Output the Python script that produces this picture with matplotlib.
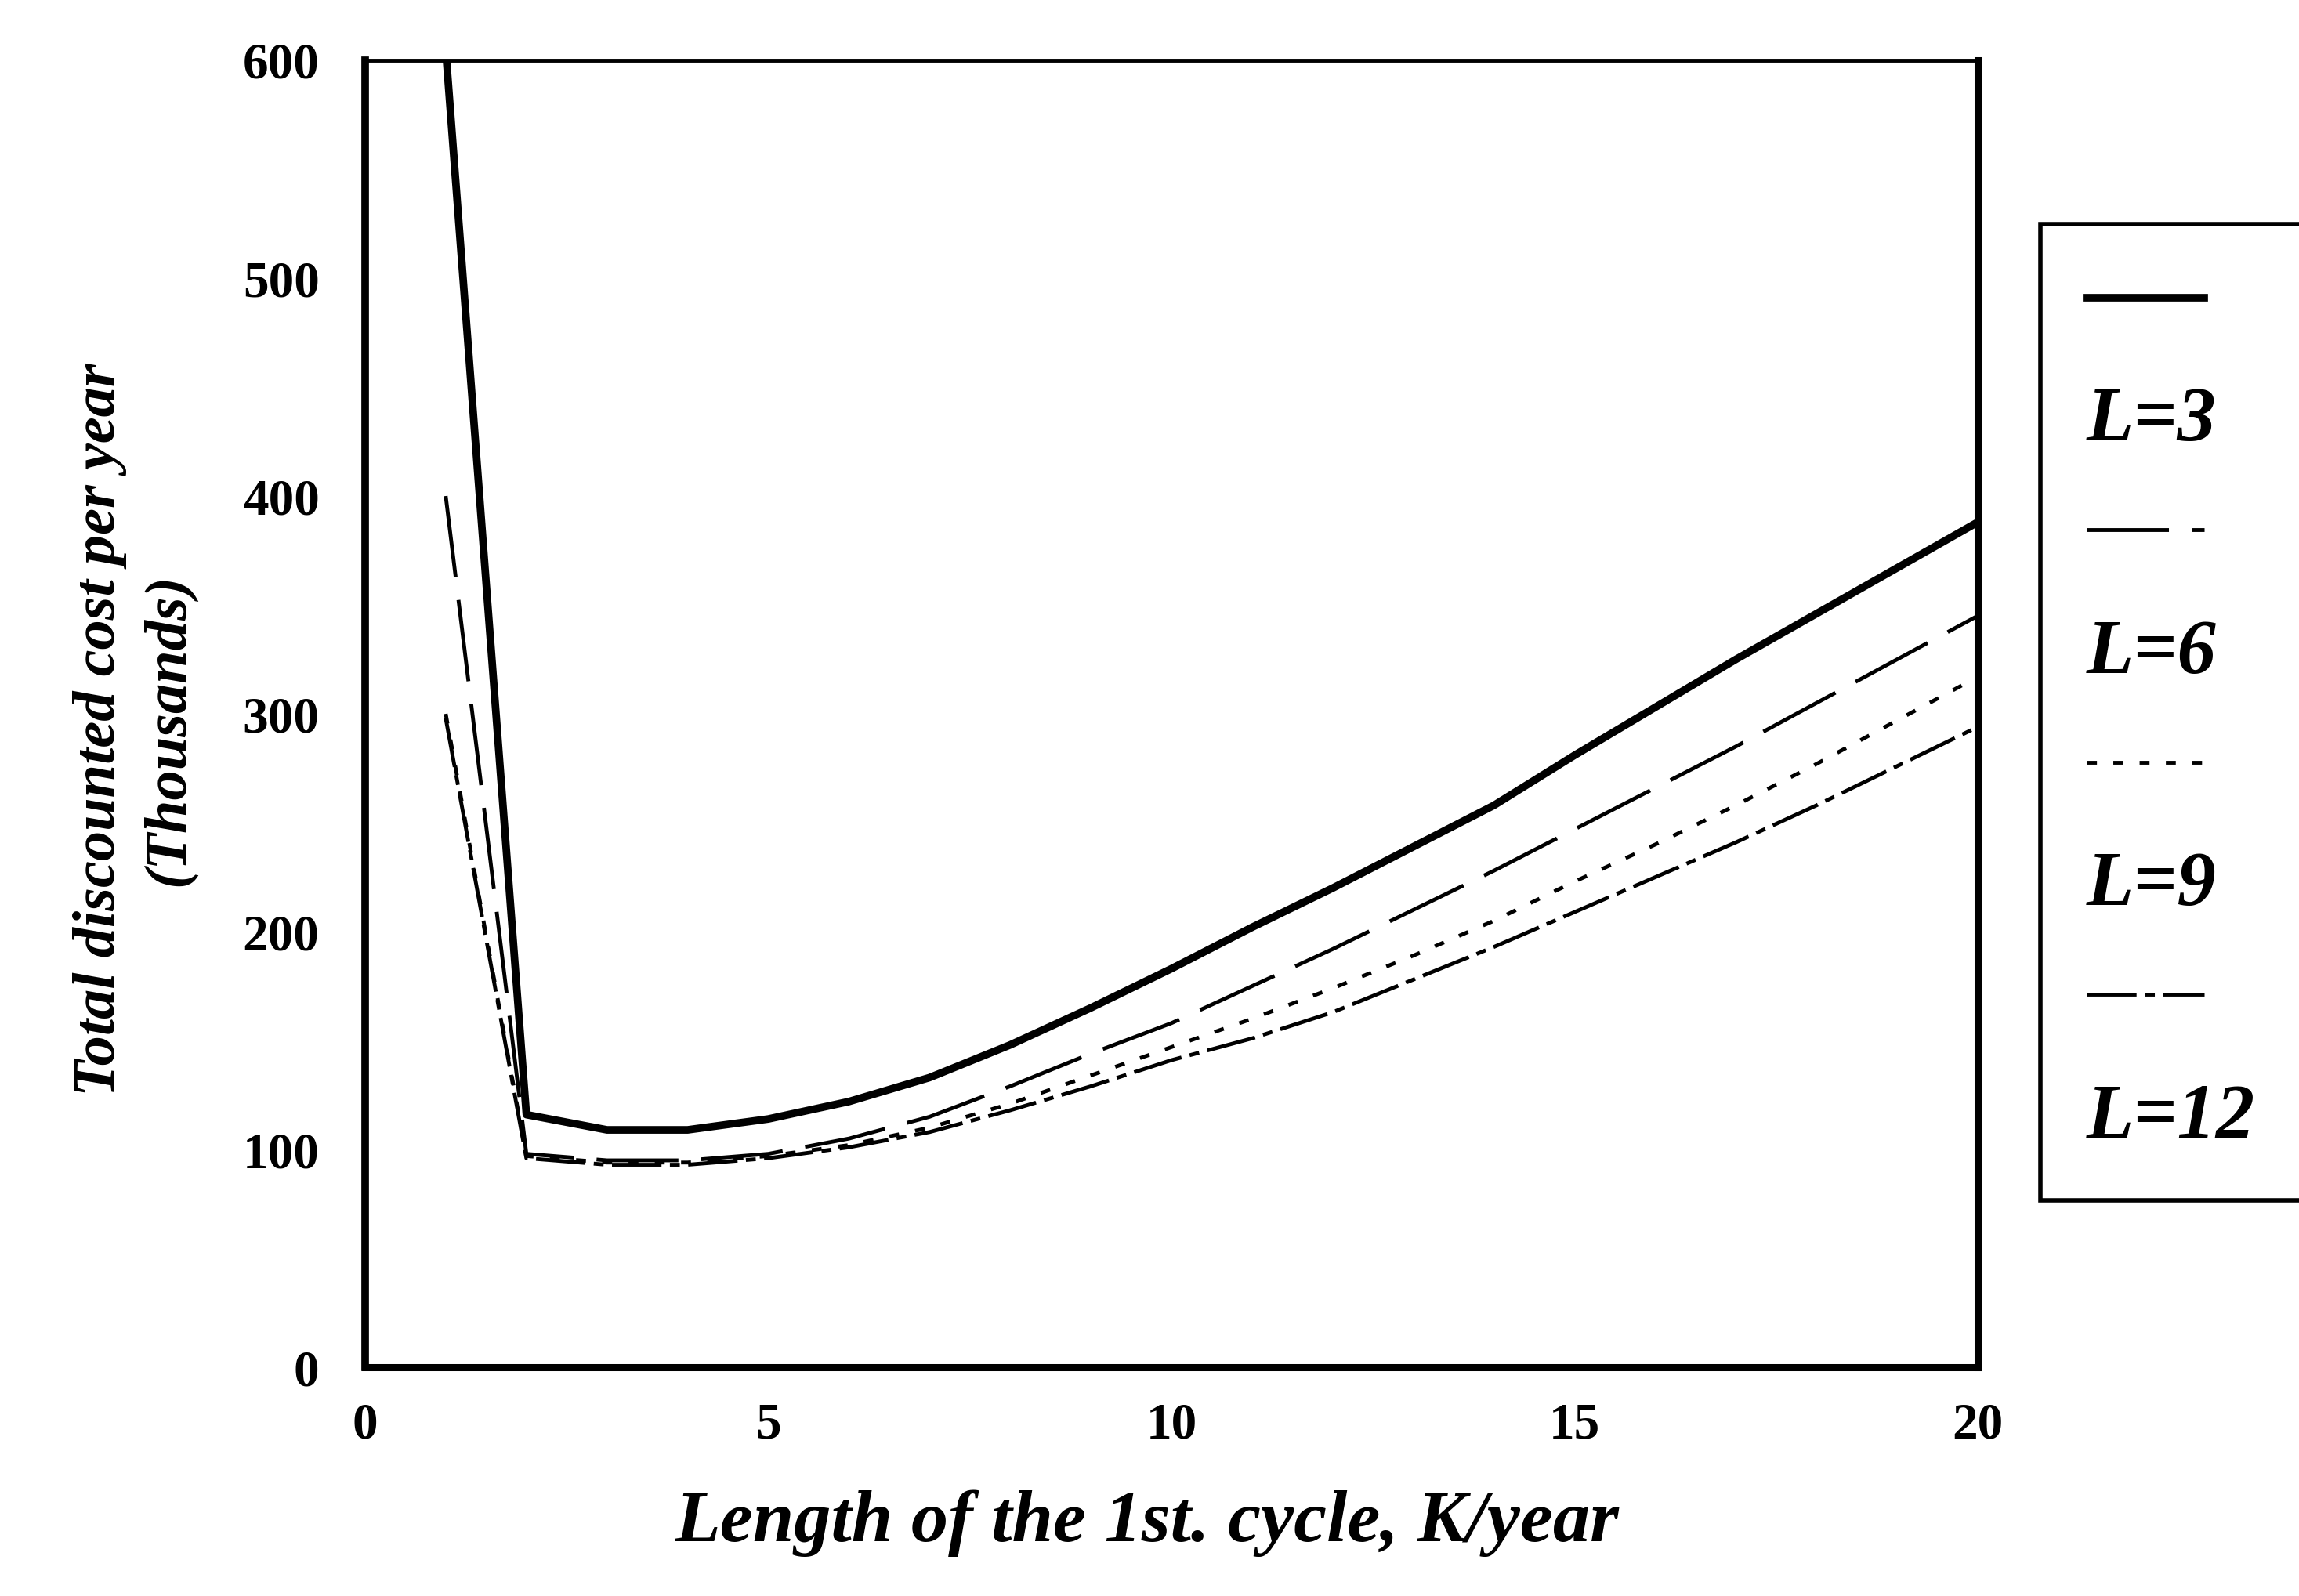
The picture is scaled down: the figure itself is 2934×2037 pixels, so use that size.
import matplotlib
matplotlib.use("Agg")
import matplotlib.pyplot as plt
from matplotlib.lines import Line2D

# ---------------- data (thousands) ----------------
K = list(range(1, 21))
cost_L3 = [605, 116, 109, 109, 114, 122, 133, 148, 165, 183, 202, 220, 239, 258, 281, 303, 325, 346, 367, 388]
cost_L6 = [400, 98, 95, 95, 98, 105, 115, 129, 144, 158, 175, 192, 210, 228, 247, 266, 285, 305, 325, 345]
cost_L9 = [300, 97, 94, 94, 97, 102, 110, 121, 134, 147, 160, 174, 189, 205, 223, 240, 258, 277, 297, 317]
cost_L12 = [298, 96, 93, 93, 96, 101, 108, 118, 129, 141, 151, 163, 178, 193, 209, 225, 241, 258, 276, 294]
series_labels = ["L=3", "L=6", "L=9", "L=12"]
x_ticks = [0, 5, 10, 15, 20]
y_ticks = [0, 100, 200, 300, 400, 500, 600]
x_label = "Length of the 1st. cycle, K/year"
y_label = "Total discounted cost per year\n(Thousands)"

plt.rcParams['font.family'] = ['Liberation Serif', 'DejaVu Serif']

fig = plt.figure(figsize=(29.34, 20.37), dpi=100)
ax = fig.add_axes([0.1588, 0.1433, 0.7015, 0.8189])

styles = [
    dict(color='black', lw=7, linestyle='-'),
    dict(color='black', lw=3.5, linestyle=(0, (21.5, 6))),
    dict(color='black', lw=3.5, linestyle=(0, (2.6, 4.3))),
    dict(color='black', lw=3.5, linestyle=(0, (13, 2.2, 2.6, 2.2))),
]
lines = []
for vals, st in zip([cost_L3, cost_L6, cost_L9, cost_L12], styles):
    ln, = ax.plot(K, vals, solid_joinstyle='round', dash_capstyle='butt', **st)
    lines.append(ln)

ax.set_xlim(0, 20)
ax.set_ylim(0, 600)
ax.set_xticks(x_ticks)
ax.set_yticks(y_ticks)
ax.tick_params(axis='both', length=0, labelsize=47)
ax.tick_params(axis='y', pad=42)
ax.tick_params(axis='x', pad=32)
for lab in ax.get_xticklabels() + ax.get_yticklabels():
    lab.set_fontweight('bold')

for side, w in [('left', 7), ('bottom', 6.5), ('right', 6.5), ('top', 3.5)]:
    ax.spines[side].set_linewidth(w)
    ax.spines[side].set_color('black')

ax.set_xlabel(x_label, fontsize=68, fontweight='bold', fontstyle='italic')
ax.set_ylabel(y_label, fontsize=55, fontweight='bold', fontstyle='italic', linespacing=1.35)
ax.xaxis.set_label_coords(0.485, -0.094)
ax.yaxis.set_label_coords(-0.105, 0.488)

# legend: line sample above its label
blank = Line2D([], [], linestyle='none')
handles, labels = [], []
for ln, lab in zip(lines, series_labels):
    handles += [ln, blank]
    labels += ["", lab]
hl = 1.52
leg = fig.legend(handles, labels, loc='upper left', bbox_to_anchor=(0.8875, 0.0, 0.2, 0.8596),
                 mode='expand', borderaxespad=0, frameon=True, fancybox=False,
                 edgecolor='black', framealpha=1,
                 prop=dict(family='Liberation Serif', weight='bold', style='italic', size=71),
                 handlelength=hl, handletextpad=-hl, labelspacing=0.59, borderpad=0.6)
leg.get_frame().set_linewidth(4)

fig.savefig("out.png", dpi=100)
